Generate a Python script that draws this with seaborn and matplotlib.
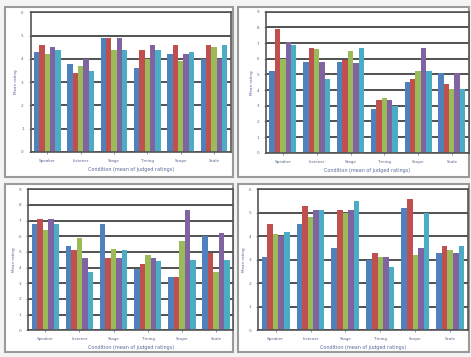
import numpy as np
import pandas as pd
import matplotlib
matplotlib.use("Agg")
import matplotlib.pyplot as plt
from matplotlib.patches import Rectangle
import seaborn as sns

# groups and series shared by all four panels
groups = ["Speaker", "Listener", "Stage", "Timing", "Scope", "Scale"]
series = ["S1", "S2", "S3", "S4", "S5"]
colors = ["#4F81BD", "#C0504D", "#9BBB59", "#8064A2", "#4BACC6"]

# one list per series, values per group
tl_vals = [[4.3, 3.8, 4.9, 3.6, 4.2, 4.0],
           [4.6, 3.4, 4.9, 4.4, 4.6, 4.6],
           [4.2, 3.7, 4.4, 4.0, 3.9, 4.5],
           [4.5, 4.0, 4.9, 4.6, 4.2, 4.0],
           [4.4, 3.5, 4.4, 4.4, 4.3, 4.6]]
tr_vals = [[5.2, 5.8, 5.8, 2.8, 4.5, 5.1],
           [7.9, 6.7, 5.9, 3.4, 4.7, 4.4],
           [6.0, 6.6, 6.5, 3.5, 5.2, 4.1],
           [7.1, 5.8, 5.7, 3.4, 6.7, 5.1],
           [6.9, 4.7, 6.7, 3.0, 5.2, 4.1]]
bl_vals = [[6.8, 5.4, 6.8, 3.9, 3.4, 6.0],
           [7.1, 5.1, 4.6, 4.2, 3.4, 4.9],
           [6.4, 5.9, 5.2, 4.8, 5.7, 3.7],
           [7.1, 4.6, 4.6, 4.6, 7.7, 6.2],
           [6.8, 3.7, 5.1, 4.4, 4.5, 4.5]]
br_vals = [[3.1, 4.5, 3.5, 3.0, 5.2, 3.3],
           [4.5, 5.3, 5.1, 3.3, 5.6, 3.6],
           [4.1, 4.8, 5.0, 3.1, 3.2, 3.4],
           [4.0, 5.1, 5.1, 3.1, 3.5, 3.3],
           [4.2, 5.1, 5.5, 2.7, 5.0, 3.6]]

xlabel = "Condition (mean of judged ratings)"
ylabel = "Mean rating"


def to_long(vals):
    rows = []
    for s, v in zip(series, vals):
        for g, y in zip(groups, v):
            rows.append({"group": g, "series": s, "value": y})
    return pd.DataFrame(rows)


def panel(fig, frame, area, vals, ymax):
    fx, fy, fw, fh = frame
    fig.patches.append(Rectangle((fx, fy), fw, fh, transform=fig.transFigure,
                                 facecolor="white", edgecolor="#9a9a9a", lw=1.5, zorder=-5))
    ax = fig.add_axes(area)
    ax.set_zorder(2)
    sns.barplot(data=to_long(vals), x="group", y="value", hue="series",
                palette=colors, width=0.8, ax=ax, legend=False, saturation=1)
    ax.set_ylim(0, ymax)
    ax.set_yticks(range(0, ymax + 1))
    ax.yaxis.grid(True, color="#333333", lw=1.2)
    ax.set_axisbelow(True)
    for sp in ax.spines.values():
        sp.set_color("#555555")
        sp.set_linewidth(1.2)
    ax.tick_params(labelsize=3, colors="#5a6a8a", length=1.5, width=0.5)
    ax.set_xlabel(xlabel, fontsize=3.5, color="#5a6a9a", labelpad=3)
    ax.set_ylabel(ylabel, fontsize=3, color="#6a5a9a", labelpad=2)
    return ax


fig = plt.figure(figsize=(4.71, 3.57), dpi=100)
fig.patch.set_facecolor("#f4f4f4")

panel(fig, (0.01, 0.505, 0.485, 0.475), (0.065, 0.575, 0.425, 0.39), tl_vals, 6)
panel(fig, (0.505, 0.505, 0.49, 0.475), (0.565, 0.572, 0.43, 0.395), tr_vals, 9)
panel(fig, (0.01, 0.015, 0.485, 0.47), (0.06, 0.075, 0.435, 0.395), bl_vals, 9)
panel(fig, (0.505, 0.015, 0.49, 0.47), (0.548, 0.075, 0.445, 0.395), br_vals, 6)

fig.savefig("out.png", dpi=100)
